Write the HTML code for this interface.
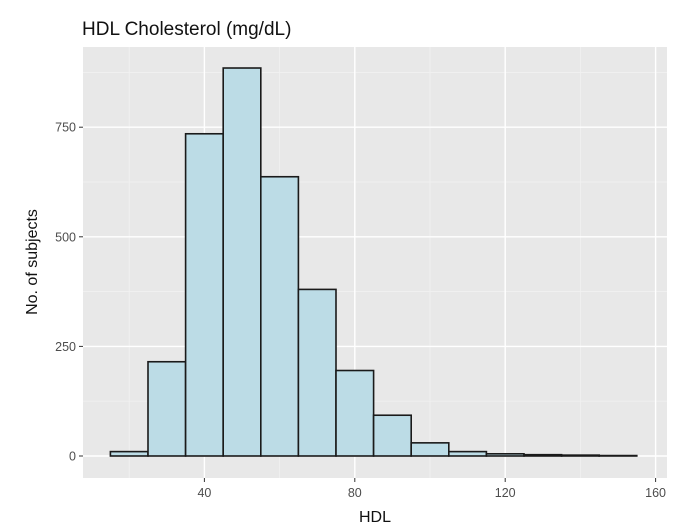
<!DOCTYPE html>
<html><head><meta charset="utf-8"><style>
body{margin:0;background:#fff;font-family:"Liberation Sans",Arial,sans-serif}
</style></head><body>
<svg id="chart" width="696" height="526" xmlns="http://www.w3.org/2000/svg">
<text x="82" y="35" font-size="19" fill="#111">HDL Cholesterol (mg/dL)</text>
<rect x="83" y="47" width="584" height="431" fill="#e8e8e8"/>
<g id="grid"></g><g id="bars"></g><g id="axes"></g>
<text x="375" y="522" font-size="16" text-anchor="middle" fill="#111">HDL</text>
<text transform="translate(37,262) rotate(-90)" font-size="16" text-anchor="middle" fill="#111">No. of subjects</text>
</svg>
<script>
const binStarts=[15,25,35,45,55,65,75,85,95,105,115,125,135,145];
const counts=[10,215,735,885,637,380,195,93,30,10,5,3,2,1];
const xTicks=[40,80,120,160];
const xMinor=[20,60,100,140];
const yTicks=[0,250,500,750];
const yMinor=[125,375,625,875];
const binWidth=10;
const NS="http://www.w3.org/2000/svg";
const X=v=>54+v*3.76, Y=v=>456-v*0.4384;
function mk(parent,tag,attrs){const e=document.createElementNS(NS,tag);for(const k in attrs)e.setAttribute(k,attrs[k]);parent.appendChild(e);return e;}
const g=document.getElementById('grid'),b=document.getElementById('bars'),a=document.getElementById('axes');
xMinor.forEach(v=>{const l=mk(g,'line',{x1:X(v),x2:X(v),y1:47,y2:478,stroke:'#f2f2f2','stroke-width':0.7});

});
yMinor.forEach(v=>{const l=mk(g,'line',{x1:83,x2:667,y1:Y(v),y2:Y(v),stroke:'#f2f2f2','stroke-width':0.7});

});
xTicks.forEach(v=>{const l=mk(g,'line',{x1:X(v),x2:X(v),y1:47,y2:478,stroke:'#fff','stroke-width':1.4});


const t=mk(a,'line',{x1:X(v),x2:X(v),y1:478,y2:482,stroke:'#333'});


const tx=mk(a,'text',{x:X(v),y:497,'font-size':12.5,'text-anchor':'middle',fill:'#4d4d4d'});tx.textContent=v;

});
yTicks.forEach(v=>{const l=mk(g,'line',{x1:83,x2:667,y1:Y(v),y2:Y(v),stroke:'#fff','stroke-width':1.4});


const t=mk(a,'line',{x1:79,x2:83,y1:Y(v),y2:Y(v),stroke:'#333'});


const tx=mk(a,'text',{x:76,y:Y(v)+4.5,'font-size':12.5,'text-anchor':'end',fill:'#4d4d4d'});tx.textContent=v;

});
binStarts.forEach((s,i)=>{const r=mk(b,'rect',{x:X(s),y:Y(counts[i]),width:X(s+binWidth)-X(s),height:Y(0)-Y(counts[i]),fill:'#bcdce6',stroke:'#1a1a1a','stroke-width':1.6});

});
</script>
</body></html>
